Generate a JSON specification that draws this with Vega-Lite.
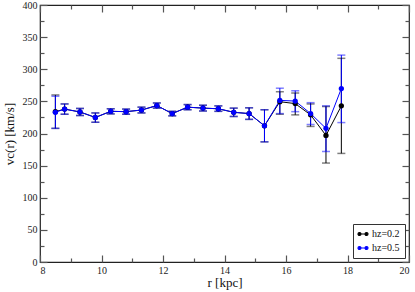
{
  "$schema": "https://vega.github.io/schema/vega-lite/v6.json",
  "width": 369,
  "height": 257,
  "autosize": "none",
  "padding": {"left": 40, "top": 5, "right": 6, "bottom": 30},
  "background": "white",
  "config": {
    "font": "Liberation Serif, Times New Roman, serif",
    "view": {"stroke": "#222222", "strokeWidth": 1.2},
    "axis": {"grid": false, "domain": false, "labelFont": "Liberation Serif, Times New Roman, serif", "titleFont": "Liberation Serif, Times New Roman, serif", "labelFontSize": 10, "titleFontSize": 13, "titleFontWeight": "normal", "labelColor": "#222222", "titleColor": "#111111", "tickColor": "#555555", "tickWidth": 1.2},
    "legend": {"labelFont": "Liberation Serif, Times New Roman, serif"}
  },
  "datasets": {
    "d": [
      {"r": 8.5, "v": 234, "lo": 208, "hi": 260, "s": "hz=0.2"},
      {"r": 8.8, "v": 238, "lo": 230, "hi": 246, "s": "hz=0.2"},
      {"r": 9.3, "v": 233.5, "lo": 228, "hi": 239, "s": "hz=0.2"},
      {"r": 9.8, "v": 225, "lo": 217.5, "hi": 232, "s": "hz=0.2"},
      {"r": 10.3, "v": 234.5, "lo": 230.5, "hi": 238.5, "s": "hz=0.2"},
      {"r": 10.8, "v": 234, "lo": 230, "hi": 238, "s": "hz=0.2"},
      {"r": 11.3, "v": 236.5, "lo": 232, "hi": 241, "s": "hz=0.2"},
      {"r": 11.8, "v": 243.5, "lo": 239.5, "hi": 247.5, "s": "hz=0.2"},
      {"r": 12.3, "v": 231, "lo": 227.5, "hi": 234.5, "s": "hz=0.2"},
      {"r": 12.8, "v": 241, "lo": 237, "hi": 245, "s": "hz=0.2"},
      {"r": 13.3, "v": 239.5, "lo": 235, "hi": 244, "s": "hz=0.2"},
      {"r": 13.8, "v": 238.5, "lo": 234.5, "hi": 243, "s": "hz=0.2"},
      {"r": 14.3, "v": 233, "lo": 226.5, "hi": 239.5, "s": "hz=0.2"},
      {"r": 14.8, "v": 231, "lo": 222, "hi": 240, "s": "hz=0.2"},
      {"r": 15.3, "v": 212, "lo": 187, "hi": 237, "s": "hz=0.2"},
      {"r": 15.8, "v": 249.5, "lo": 230, "hi": 265, "s": "hz=0.2"},
      {"r": 16.3, "v": 246.5, "lo": 229, "hi": 263, "s": "hz=0.2"},
      {"r": 16.8, "v": 229, "lo": 211, "hi": 246, "s": "hz=0.2"},
      {"r": 17.3, "v": 197, "lo": 154, "hi": 242, "s": "hz=0.2"},
      {"r": 17.8, "v": 243, "lo": 169, "hi": 317, "s": "hz=0.2"},
      {"r": 8.5, "v": 233, "lo": 208, "hi": 258, "s": "hz=0.5"},
      {"r": 8.8, "v": 238, "lo": 230, "hi": 246, "s": "hz=0.5"},
      {"r": 9.3, "v": 233.5, "lo": 228, "hi": 239, "s": "hz=0.5"},
      {"r": 9.8, "v": 225, "lo": 217.5, "hi": 232, "s": "hz=0.5"},
      {"r": 10.3, "v": 234.5, "lo": 230.5, "hi": 238.5, "s": "hz=0.5"},
      {"r": 10.8, "v": 234, "lo": 230, "hi": 238, "s": "hz=0.5"},
      {"r": 11.3, "v": 236.5, "lo": 232, "hi": 241, "s": "hz=0.5"},
      {"r": 11.8, "v": 243.5, "lo": 239.5, "hi": 247.5, "s": "hz=0.5"},
      {"r": 12.3, "v": 231, "lo": 227.5, "hi": 234.5, "s": "hz=0.5"},
      {"r": 12.8, "v": 241, "lo": 237, "hi": 245, "s": "hz=0.5"},
      {"r": 13.3, "v": 239.5, "lo": 235, "hi": 244, "s": "hz=0.5"},
      {"r": 13.8, "v": 238.5, "lo": 234.5, "hi": 243, "s": "hz=0.5"},
      {"r": 14.3, "v": 233, "lo": 226.5, "hi": 239.5, "s": "hz=0.5"},
      {"r": 14.8, "v": 231, "lo": 222, "hi": 240, "s": "hz=0.5"},
      {"r": 15.3, "v": 212, "lo": 187, "hi": 237, "s": "hz=0.5"},
      {"r": 15.8, "v": 251.5, "lo": 231, "hi": 270.5, "s": "hz=0.5"},
      {"r": 16.3, "v": 250.5, "lo": 234, "hi": 266.5, "s": "hz=0.5"},
      {"r": 16.8, "v": 231, "lo": 214, "hi": 248, "s": "hz=0.5"},
      {"r": 17.3, "v": 208, "lo": 172, "hi": 243, "s": "hz=0.5"},
      {"r": 17.8, "v": 270, "lo": 217, "hi": 322, "s": "hz=0.5"}
    ]
  },
  "data": {"name": "d"},
  "resolve": {"axis": {"x": "independent", "y": "independent"}},
  "layer": [
    {
      "mark": {"type": "rule", "strokeWidth": 1},
      "encoding": {
        "x": {"field": "r", "type": "quantitative", "scale": {"domain": [8, 20], "nice": false, "zero": false},
              "axis": {"orient": "bottom", "values": [8, 10, 12, 14, 16, 18, 20], "tickSize": -7, "labelPadding": 10, "title": "r [kpc]", "titlePadding": 1}},
        "y": {"field": "lo", "type": "quantitative", "scale": {"domain": [0, 400], "nice": false},
              "axis": {"orient": "left", "values": [0, 50, 100, 150, 200, 250, 300, 350, 400], "tickSize": -7, "labelPadding": 10, "title": "vc(r) [km/s]", "titlePadding": 6}},
        "y2": {"field": "hi"},
        "color": {"field": "s", "type": "nominal", "scale": {"domain": ["hz=0.2", "hz=0.5"], "range": ["#000000", "#0000ff"]},
                  "legend": {"title": null, "orient": "bottom-right", "offset": 4, "strokeColor": "#333333", "padding": 5, "labelFontSize": 10, "labelColor": "#111111", "symbolType": "M-1.4,0L1.4,0M-2.0,0A0.6,0.6,0,1,0,-0.8,0A0.6,0.6,0,1,0,-2.0,0ZM0.8,0A0.6,0.6,0,1,0,2.0,0A0.6,0.6,0,1,0,0.8,0Z", "symbolSize": 25, "symbolStrokeWidth": 1.2, "rowPadding": 4, "fillColor": "white",
                    "encode": {"symbols": {"update": {"opacity": {"value": 1}, "strokeOpacity": {"value": 1}, "fillOpacity": {"value": 1}}}}}}
      }
    },
    {
      "mark": {"type": "tick", "orient": "horizontal", "size": 8, "thickness": 1.5, "opacity": 0.5},
      "encoding": {
        "x": {"field": "r", "type": "quantitative", "axis": {"orient": "top", "values": [8, 10, 12, 14, 16, 18, 20], "tickSize": -7, "labels": false, "title": null}},
        "y": {"field": "lo", "type": "quantitative", "axis": {"orient": "right", "values": [0, 50, 100, 150, 200, 250, 300, 350, 400], "tickSize": -7, "labels": false, "title": null}},
        "color": {"field": "s", "type": "nominal"}
      }
    },
    {
      "mark": {"type": "tick", "orient": "horizontal", "size": 8, "thickness": 1.5, "opacity": 0.5},
      "encoding": {
        "x": {"field": "r", "type": "quantitative", "axis": {"orient": "bottom", "values": [9, 11, 13, 15, 17, 19], "tickSize": -4, "labels": false, "title": null}},
        "y": {"field": "hi", "type": "quantitative", "axis": {"orient": "left", "values": [25, 75, 125, 175, 225, 275, 325, 375], "tickSize": -4, "labels": false, "title": null}},
        "color": {"field": "s", "type": "nominal"}
      }
    },
    {
      "mark": {"type": "line", "strokeWidth": 1},
      "encoding": {
        "x": {"field": "r", "type": "quantitative", "axis": {"orient": "top", "values": [9, 11, 13, 15, 17, 19], "tickSize": -4, "labels": false, "title": null}},
        "y": {"field": "v", "type": "quantitative", "axis": {"orient": "right", "values": [25, 75, 125, 175, 225, 275, 325, 375], "tickSize": -4, "labels": false, "title": null}},
        "color": {"field": "s", "type": "nominal"}
      }
    },
    {
      "mark": {"type": "point", "filled": true, "opacity": 1, "size": 28},
      "encoding": {
        "x": {"field": "r", "type": "quantitative", "axis": null},
        "y": {"field": "v", "type": "quantitative", "axis": null},
        "color": {"field": "s", "type": "nominal"}
      }
    }
  ]
}
